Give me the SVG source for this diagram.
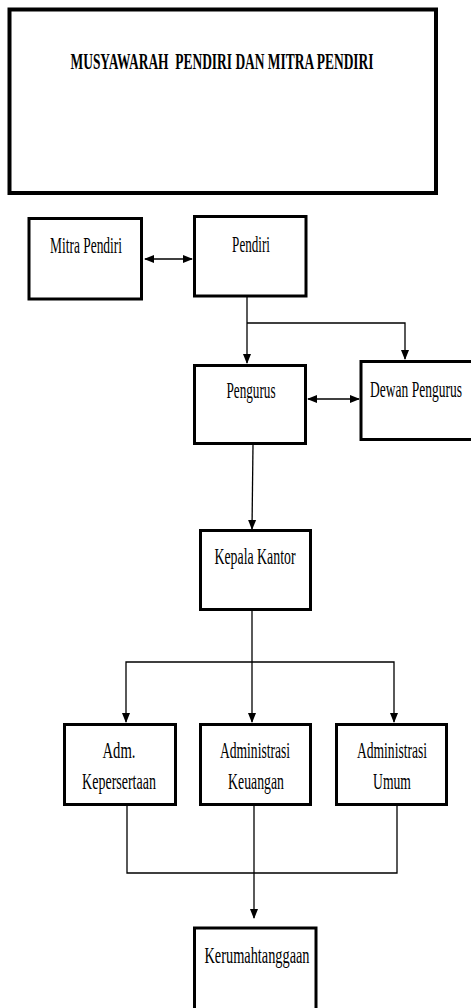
<svg xmlns="http://www.w3.org/2000/svg" width="471" height="1008" viewBox="0 0 471 1008">
<style>
.box{fill:#fff;stroke:#000;stroke-width:3}
.lbl{font-family:"Liberation Serif","Times New Roman",serif;font-size:23px;fill:#000;text-anchor:middle}
.ttl{font-weight:bold;font-size:24px}
.con{fill:none;stroke:#000;stroke-width:1.3}
</style>
<defs>
<marker id="ah" markerUnits="userSpaceOnUse" markerWidth="10" markerHeight="10" viewBox="0 0 10 10" refX="9" refY="5" orient="auto-start-reverse">
<path d="M0,1 L10,5 L0,9 Z" fill="#000"/>
</marker>
</defs>
<rect width="471" height="1008" fill="#fff"/>
<g id="connectors">
<line class="con" x1="145" y1="259" x2="192" y2="259" marker-start="url(#ah)" marker-end="url(#ah)"/>
<polyline class="con" points="247,297 247,363"  marker-end="url(#ah)"/>
<polyline class="con" points="247,323 405,323 405,359" marker-end="url(#ah)"/>
<line class="con" x1="308" y1="399" x2="359" y2="399" marker-start="url(#ah)" marker-end="url(#ah)"/>
<line class="con" x1="253" y1="445" x2="252" y2="529" marker-end="url(#ah)"/>
<polyline class="con" points="252,611 252,722" marker-end="url(#ah)"/>
<polyline class="con" points="126,722 126,662 394,662 394,722" marker-start="url(#ah)" marker-end="url(#ah)"/>
<polyline class="con" points="127,806 127,873 397,873 397,806"/>
<polyline class="con" points="254,806 254,918" marker-end="url(#ah)"/>
</g>
<g id="musyawarah">
<rect class="box" x="9.5" y="9.5" width="426.5" height="183.5" style="stroke-width:4"/>
<text class="lbl ttl" transform="translate(222,69) scale(0.6,1)" textLength="505" lengthAdjust="spacingAndGlyphs">MUSYAWARAH&#160; PENDIRI DAN MITRA PENDIRI</text>
</g>
<g id="mitra-pendiri">
<rect class="box" x="29" y="218.5" width="112.5" height="80.5"/>
<text class="lbl" transform="translate(86,253) scale(0.6,1)" textLength="120" lengthAdjust="spacingAndGlyphs">Mitra Pendiri</text>
</g>
<g id="pendiri">
<rect class="box" x="194.5" y="216.5" width="111.5" height="79.5"/>
<text class="lbl" transform="translate(251,252) scale(0.6,1)" textLength="63" lengthAdjust="spacingAndGlyphs">Pendiri</text>
</g>
<g id="pengurus">
<rect class="box" x="194.5" y="365.5" width="111" height="78"/>
<text class="lbl" transform="translate(251,398) scale(0.6,1)" textLength="82" lengthAdjust="spacingAndGlyphs">Pengurus</text>
</g>
<g id="dewan-pengurus">
<rect class="box" x="361" y="361.5" width="130" height="78"/>
<text class="lbl" transform="translate(416,397) scale(0.6,1)" textLength="153" lengthAdjust="spacingAndGlyphs">Dewan Pengurus</text>
</g>
<g id="kepala-kantor">
<rect class="box" x="200.5" y="530.5" width="110" height="79"/>
<text class="lbl" transform="translate(255,564) scale(0.6,1)" textLength="135" lengthAdjust="spacingAndGlyphs">Kepala Kantor</text>
</g>
<g id="adm-kepersertaan">
<rect class="box" x="64.5" y="724.5" width="111" height="80"/>
<text class="lbl" transform="translate(119,758) scale(0.6,1)" textLength="55" lengthAdjust="spacingAndGlyphs">Adm.</text>
<text class="lbl" transform="translate(119,789) scale(0.6,1)" textLength="123" lengthAdjust="spacingAndGlyphs">Kepersertaan</text>
</g>
<g id="administrasi-keuangan">
<rect class="box" x="200.5" y="724.5" width="110" height="80"/>
<text class="lbl" transform="translate(255,758) scale(0.6,1)" textLength="117" lengthAdjust="spacingAndGlyphs">Administrasi</text>
<text class="lbl" transform="translate(256,789) scale(0.6,1)" textLength="93" lengthAdjust="spacingAndGlyphs">Keuangan</text>
</g>
<g id="administrasi-umum">
<rect class="box" x="336.5" y="724.5" width="110" height="80"/>
<text class="lbl" transform="translate(392,758) scale(0.6,1)" textLength="117" lengthAdjust="spacingAndGlyphs">Administrasi</text>
<text class="lbl" transform="translate(392,789) scale(0.6,1)" textLength="63" lengthAdjust="spacingAndGlyphs">Umum</text>
</g>
<g id="kerumahtanggaan">
<rect class="box" x="194.5" y="928" width="121.5" height="90"/>
<text class="lbl" transform="translate(257,963) scale(0.6,1)" textLength="175" lengthAdjust="spacingAndGlyphs">Kerumahtanggaan</text>
</g>
</svg>
